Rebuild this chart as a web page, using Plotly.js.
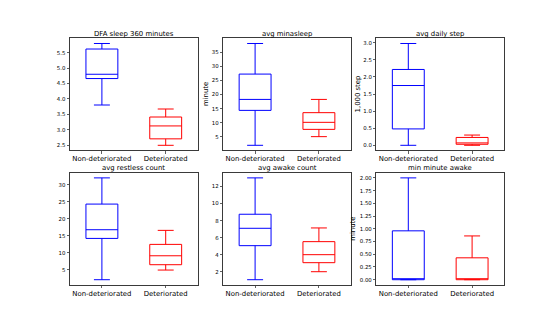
<!DOCTYPE html>
<html>
<head>
<meta charset="utf-8">
<script src="https://cdn.plot.ly/plotly-3.0.1.min.js"></script>
<style>
    html, body { margin:0; padding:0; background:#ffffff; }
    #chart { width:560px; height:320px; }
</style>
</head>
<body>
<div id="chart"></div>
<script>

/* ==========================================
   DATA
========================================== */

const groups = ["Non-deteriorated", "Deteriorated"];

const titles = [
    "DFA sleep 360 minutes",
    "avg minasleep",
    "avg daily step",
    "avg restless count",
    "avg awake count",
    "min minute awake"
];

const yTitles = ["", "minute", "1,000 step", "", "", "minute"];

// Non-deteriorated boxes
const nonLow  = [3.80,  2.06, 0.00,  2.06,  1.06, 0.00];
const nonQ1   = [4.66, 14.41, 0.48, 14.20,  5.06, 0.00];
const nonMed  = [4.80, 18.29, 1.75, 16.76,  7.10, 0.00];
const nonQ3   = [5.62, 27.24, 2.22, 24.30,  8.75, 0.96];
const nonHigh = [5.80, 38.06, 2.98, 32.00, 13.02, 2.00];

// Deteriorated boxes
const detLow  = [2.49,  5.12, 0.00,  4.90, 2.00, 0.00];
const detQ1   = [2.70,  7.70, 0.03,  6.47, 3.06, 0.00];
const detMed  = [3.12, 10.18, 0.07,  9.10, 4.00, 0.00];
const detQ3   = [3.41, 13.60, 0.23, 12.45, 5.53, 0.43];
const detHigh = [3.67, 18.29, 0.30, 16.57, 7.14, 0.86];

const tickSteps   = [0.5, 5, 0.5, 5, 2, 0.25];
const tickFormats = [".1f", "", ".1f", "", "", ".2f"];


/* ==========================================
   LAYOUT HELPERS
========================================== */

const W = 560, H = 320;

// axes boxes in pixels (left, right, top, bottom)
const colsPx = [[70, 197.6], [223.2, 350.8], [376.4, 504]];
const rowsPx = [[38.4, 150.4], [172.8, 284.8]];

const yLabelX = [0, 206.7, 358, 0, 0, 353];

const FONT = "DejaVu Sans, Arial, sans-serif";
const FRAME = "#3a3a3a";


/* ==========================================
   DRAW
========================================== */

function drawBoxes(){

    let traces = [];

    let layout = {
        width:W,
        height:H,
        margin:{l:0, r:0, t:0, b:0},
        paper_bgcolor:"#ffffff",
        plot_bgcolor:"#ffffff",
        showlegend:false,
        font:{family:FONT, color:"#000000"},
        annotations:[]
    };

    titles.forEach((title, i)=>{

        const n = i + 1;
        const xa = n === 1 ? "x" : "x" + n;
        const ya = n === 1 ? "y" : "y" + n;

        const col = colsPx[i % 3];
        const row = rowsPx[Math.floor(i / 3)];

        const boxStyle = (color)=>({
            type:"box",
            xaxis:xa,
            yaxis:ya,
            width:0.5,
            whiskerwidth:0.5,
            fillcolor:"rgba(0,0,0,0)",
            line:{color:color, width:1},
            hoverinfo:"skip"
        });

        traces.push(Object.assign(boxStyle("#0000ff"), {
            x:[groups[0]],
            lowerfence:[nonLow[i]],
            q1:[nonQ1[i]],
            median:[nonMed[i]],
            q3:[nonQ3[i]],
            upperfence:[nonHigh[i]]
        }));

        traces.push(Object.assign(boxStyle("#ff0000"), {
            x:[groups[1]],
            lowerfence:[detLow[i]],
            q1:[detQ1[i]],
            median:[detMed[i]],
            q3:[detQ3[i]],
            upperfence:[detHigh[i]]
        }));

        // matplotlib style 5% padding around whisker ends
        const lo = Math.min(nonLow[i], detLow[i]);
        const hi = Math.max(nonHigh[i], detHigh[i]);
        const pad = (hi - lo) * 0.05;

        const xKey = n === 1 ? "xaxis" : "xaxis" + n;
        const yKey = n === 1 ? "yaxis" : "yaxis" + n;

        layout[xKey] = {
            domain:[col[0] / W, col[1] / W],
            anchor:ya,
            type:"category",
            categoryorder:"array",
            categoryarray:groups,
            range:[-0.5, 1.5],
            showline:true,
            mirror:true,
            linecolor:FRAME,
            linewidth:1,
            showgrid:false,
            zeroline:false,
            ticks:"outside",
            ticklen:2.5,
            tickwidth:0.8,
            tickcolor:FRAME,
            ticklabelstandoff:-1,
            tickfont:{family:FONT, size:6.9, color:"#000000"}
        };

        layout[yKey] = {
            domain:[1 - row[1] / H, 1 - row[0] / H],
            anchor:xa,
            range:[lo - pad, hi + pad],
            dtick:tickSteps[i],
            tick0:0,
            tickformat:tickFormats[i],
            showline:true,
            mirror:true,
            linecolor:FRAME,
            linewidth:1,
            showgrid:false,
            zeroline:false,
            ticks:"outside",
            ticklen:2.5,
            tickwidth:0.8,
            tickcolor:FRAME,
            tickfont:{family:FONT, size:5.4, color:"#000000"}
        };

        // subplot title
        layout.annotations.push({
            text:title,
            xref:"paper",
            yref:"paper",
            x:(col[0] + col[1]) / 2 / W,
            y:1 - row[0] / H,
            xanchor:"center",
            yanchor:"bottom",
            yshift:-1.5,
            showarrow:false,
            font:{family:FONT, size:6.9, color:"#000000"}
        });

        // y axis label
        if(yTitles[i]){

            layout.annotations.push({
                text:yTitles[i],
                xref:"paper",
                yref:"paper",
                x:yLabelX[i] / W,
                y:1 - (row[0] + row[1]) / 2 / H,
                xanchor:"center",
                yanchor:"middle",
                textangle:-90,
                showarrow:false,
                font:{family:FONT, size:6.9, color:"#000000"}
            });

        }

    });

    Plotly.newPlot("chart", traces, layout, {staticPlot:true, displayModeBar:false});

}

drawBoxes();

</script>
</body>
</html>
